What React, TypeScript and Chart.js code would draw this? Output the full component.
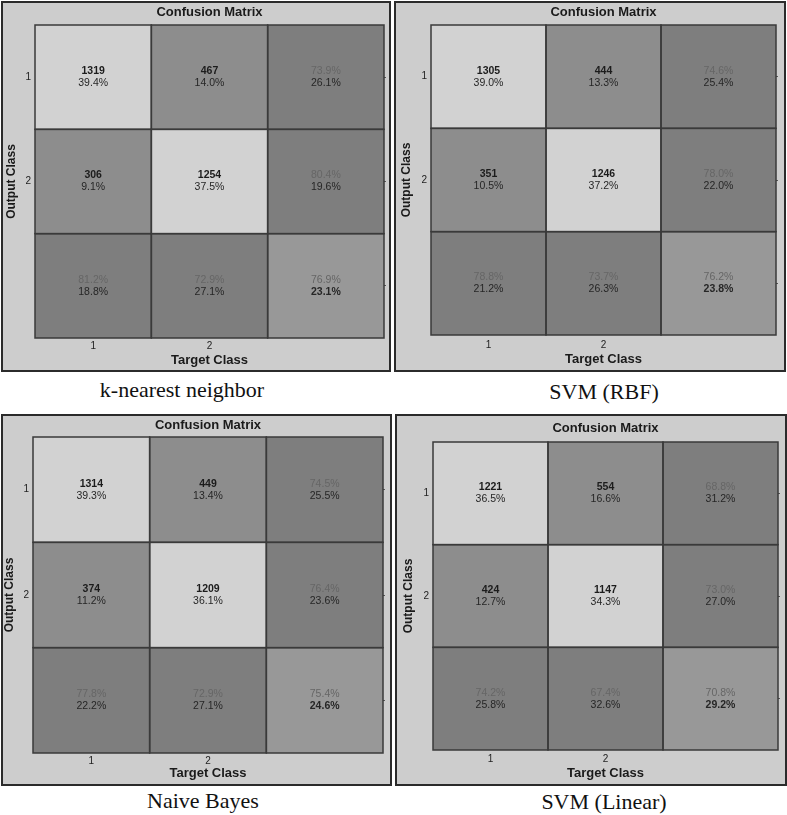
import React, { useEffect, useRef } from 'react';
import { Chart, registerables } from 'chart.js';

Chart.register(...registerables);

// ---------- labels ----------
const targetLabels = ['1', '2', ''];
const outputLabels = ['1', '2', '']; // top to bottom
const chartTitle = 'Confusion Matrix';
const xAxisTitle = 'Target Class';
const yAxisTitle = 'Output Class';

// ---------- k-nearest neighbor ----------
const knnCounts = [[1319, 467], [306, 1254]];
const knnShares = [[39.4, 14.0], [9.1, 37.5]];
const knnRowRates = [[73.9, 26.1], [80.4, 19.6]];
const knnColRates = [[81.2, 18.8], [72.9, 27.1]];
const knnTotal = [76.9, 23.1];

// ---------- SVM (RBF) ----------
const rbfCounts = [[1305, 444], [351, 1246]];
const rbfShares = [[39.0, 13.3], [10.5, 37.2]];
const rbfRowRates = [[74.6, 25.4], [78.0, 22.0]];
const rbfColRates = [[78.8, 21.2], [73.7, 26.3]];
const rbfTotal = [76.2, 23.8];

// ---------- Naive Bayes ----------
const nbCounts = [[1314, 449], [374, 1209]];
const nbShares = [[39.3, 13.4], [11.2, 36.1]];
const nbRowRates = [[74.5, 25.5], [76.4, 23.6]];
const nbColRates = [[77.8, 22.2], [72.9, 27.1]];
const nbTotal = [75.4, 24.6];

// ---------- SVM (Linear) ----------
const linCounts = [[1221, 554], [424, 1147]];
const linShares = [[36.5, 16.6], [12.7, 34.3]];
const linRowRates = [[68.8, 31.2], [73.0, 27.0]];
const linColRates = [[74.2, 25.8], [67.4, 32.6]];
const linTotal = [70.8, 29.2];

const models = [
  { name: 'k-nearest neighbor', counts: knnCounts, shares: knnShares, rowRates: knnRowRates, colRates: knnColRates, total: knnTotal },
  { name: 'SVM (RBF)', counts: rbfCounts, shares: rbfShares, rowRates: rbfRowRates, colRates: rbfColRates, total: rbfTotal },
  { name: 'Naive Bayes', counts: nbCounts, shares: nbShares, rowRates: nbRowRates, colRates: nbColRates, total: nbTotal },
  { name: 'SVM (Linear)', counts: linCounts, shares: linShares, rowRates: linRowRates, colRates: linColRates, total: linTotal },
];

// ---------- layout (page coordinates) ----------
const layouts = [
  { box: [1, 1, 390, 371], grid: [35, 25, 384, 338], titleY: 12, yTitleX: 12, xTitleY: 360, xTickY: 346.5, caption: [182, 397] },
  { box: [394, 1, 392, 371], grid: [431, 25, 776, 335], titleY: 12, yTitleX: 407, xTitleY: 359.3, xTickY: 345, caption: [604, 399] },
  { box: [1, 414, 391, 372], grid: [33, 437, 383, 753], titleY: 425, yTitleX: 10, xTitleY: 773.3, xTickY: 761, caption: [203, 808] },
  { box: [395, 414, 392, 372], grid: [433, 442, 778, 750], titleY: 428, yTitleX: 409, xTitleY: 773.3, xTickY: 759, caption: [604, 809] },
];

const SANS = "'Liberation Sans', Arial, Helvetica, sans-serif";
const LIGHT = '#d2d2d2';
const MID = '#8d8d8d';
const DARK = '#7e7e7e';
const TOTAL = '#989898';
const PANEL_BG = '#cdcdcd';

const fmt = (v: number) => v.toFixed(1) + '%';

type Cell = { bg: string; l1: string; l2: string; kind: 'cell' | 'summary' | 'total' };

function buildRows(m: any): Cell[][] {
  const rows: Cell[][] = [];
  for (let r = 0; r < 2; r++) {
    const row: Cell[] = [];
    for (let c = 0; c < 2; c++) {
      row.push({ bg: r === c ? LIGHT : MID, l1: String(m.counts[r][c]), l2: fmt(m.shares[r][c]), kind: 'cell' });
    }
    row.push({ bg: DARK, l1: fmt(m.rowRates[r][0]), l2: fmt(m.rowRates[r][1]), kind: 'summary' });
    rows.push(row);
  }
  const last: Cell[] = [];
  for (let c = 0; c < 2; c++) {
    last.push({ bg: DARK, l1: fmt(m.colRates[c][0]), l2: fmt(m.colRates[c][1]), kind: 'summary' });
  }
  last.push({ bg: TOTAL, l1: fmt(m.total[0]), l2: fmt(m.total[1]), kind: 'total' });
  rows.push(last);
  return rows;
}

const textStyle: Record<string, { w1: string; c1: string; w2: string; c2: string }> = {
  cell: { w1: 'bold', c1: '#1c1c1c', w2: 'normal', c2: '#262626' },
  summary: { w1: 'normal', c1: '#666666', w2: 'normal', c2: '#262626' },
  total: { w1: 'normal', c1: '#666666', w2: 'bold', c2: '#262626' },
};

const cellPlugin = {
  id: 'cellText',
  afterDatasetsDraw(chart: any) {
    const ctx = chart.ctx;
    ctx.save();
    const rects: any[] = [];
    chart.data.datasets.forEach((ds: any, d: number) => {
      const meta = chart.getDatasetMeta(d);
      meta.data.forEach((el: any, i: number) => {
        const p = el.getProps(['x', 'y', 'base', 'width'], true);
        const top = Math.min(p.y, p.base);
        const h = Math.abs(p.base - p.y);
        const cy = top + h / 2;
        const cell: Cell = ds.cells[i];
        const st = textStyle[cell.kind];
        ctx.textAlign = 'center';
        ctx.textBaseline = 'middle';
        ctx.font = `${st.w1} 10.5px ${SANS}`;
        ctx.fillStyle = st.c1;
        ctx.fillText(cell.l1, p.x, cy - 6);
        ctx.font = `${st.w2} 10.5px ${SANS}`;
        ctx.fillStyle = st.c2;
        ctx.fillText(cell.l2, p.x, cy + 6);
        rects.push([p.x - p.width / 2, top, p.width, h]);
      });
    });
    ctx.strokeStyle = '#3a3a3a';
    ctx.lineWidth = 1.5;
    rects.forEach(([x, y, w, h]) => ctx.strokeRect(x, y, w, h));
    ctx.restore();
  },
};

function Panel({ model, lay }: { model: any; lay: any }) {
  const ref = useRef<HTMLCanvasElement>(null);
  const [bx, by, bw, bh] = lay.box;
  const ox = bx + 2;
  const oy = by + 2;
  const cw = bw - 4;
  const ch = bh - 4;

  useEffect(() => {
    const [L, T, R, B] = lay.grid;
    const yW = L - ox;
    const y2W = ox + cw - R;
    const xH = oy + ch - B;
    const top = T - oy;
    const tPadTop = lay.titleY - oy - 7.8;
    const tPadBottom = top - 15.6 - tPadTop;
    const yTitlePad = lay.yTitleX - ox - 7.2;
    const xTitlePad = oy + ch - lay.xTitleY - 7.8;
    const xTickPad = lay.xTickY - B - 6;

    const rows = buildRows(model);
    const tickValues = [0.5, 1.5, 2.5];
    const yLabelsAsc = outputLabels.slice().reverse();

    const datasets = rows
      .slice()
      .reverse()
      .map((row) => ({
        data: row.map(() => 1),
        backgroundColor: row.map((c) => c.bg),
        borderWidth: 0,
        barPercentage: 1,
        categoryPercentage: 1,
        cells: row,
      }));

    const chart = new Chart(ref.current as HTMLCanvasElement, {
      type: 'bar',
      data: { labels: targetLabels, datasets: datasets as any },
      options: {
        animation: false,
        responsive: false,
        maintainAspectRatio: false,
        devicePixelRatio: 1,
        events: [],
        layout: { padding: 0 },
        plugins: {
          legend: { display: false },
          tooltip: { enabled: false },
          title: {
            display: true,
            text: chartTitle,
            fullSize: false,
            color: '#1a1a1a',
            font: { family: SANS, size: 13, weight: 'bold', lineHeight: 1.2 },
            padding: { top: tPadTop, bottom: tPadBottom },
          },
        },
        scales: {
          x: {
            type: 'category',
            stacked: true,
            offset: true,
            grid: { display: false, drawTicks: false },
            border: { display: false },
            ticks: {
              color: '#222',
              font: { family: SANS, size: 10, lineHeight: 1.2 },
              padding: xTickPad,
              autoSkip: false,
              maxRotation: 0,
            },
            title: {
              display: true,
              text: xAxisTitle,
              color: '#1a1a1a',
              font: { family: SANS, size: 13, weight: 'bold', lineHeight: 1.2 },
              padding: { top: 0, bottom: xTitlePad },
            },
            afterFit: (s: any) => { s.height = xH; },
          },
          y: {
            type: 'linear',
            stacked: true,
            min: 0,
            max: 3,
            position: 'left',
            grid: { display: false, drawTicks: false },
            border: { display: false },
            afterBuildTicks: (s: any) => { s.ticks = tickValues.map((v) => ({ value: v })); },
            ticks: {
              color: '#222',
              font: { family: SANS, size: 10, lineHeight: 1.2 },
              padding: 4,
              callback: (_v: any, i: number) => yLabelsAsc[i],
            },
            title: {
              display: true,
              text: yAxisTitle,
              color: '#1a1a1a',
              font: { family: SANS, size: 12, weight: 'bold', lineHeight: 1.2 },
              padding: { top: yTitlePad, bottom: 0 },
            },
            afterFit: (s: any) => { s.width = yW; },
          },
          y2: {
            type: 'linear',
            min: 0,
            max: 3,
            position: 'right',
            grid: { display: true, drawOnChartArea: false, drawTicks: true, tickLength: 2, color: '#555', lineWidth: 1 },
            border: { display: false },
            afterBuildTicks: (s: any) => { s.ticks = tickValues.map((v) => ({ value: v })); },
            ticks: { display: false },
            afterFit: (s: any) => { s.width = y2W; },
          },
        },
      } as any,
      plugins: [cellPlugin],
    });
    return () => chart.destroy();
  }, []);

  return (
    <>
      <div
        style={{
          position: 'absolute',
          left: bx,
          top: by,
          width: bw,
          height: bh,
          boxSizing: 'border-box',
          border: '2px solid #2b2b2b',
          background: PANEL_BG,
        }}
      >
        <canvas
          ref={ref}
          width={cw}
          height={ch}
          style={{ position: 'absolute', left: 0, top: 0, width: cw, height: ch, display: 'block' }}
        />
      </div>
      <div
        style={{
          position: 'absolute',
          left: lay.caption[0] - 200,
          width: 400,
          top: lay.caption[1] - 19.4,
          textAlign: 'center',
          fontFamily: "'Liberation Serif', 'Times New Roman', serif",
          fontSize: 22,
          lineHeight: '24px',
          color: '#111',
          whiteSpace: 'nowrap',
        }}
      >
        {model.name}
      </div>
    </>
  );
}

export default function App() {
  return (
    <div style={{ position: 'absolute', left: 0, top: 0, width: 787, height: 815, background: '#fff', overflow: 'hidden' }}>
      {models.map((m, i) => (
        <Panel key={m.name} model={m} lay={layouts[i]} />
      ))}
    </div>
  );
}
